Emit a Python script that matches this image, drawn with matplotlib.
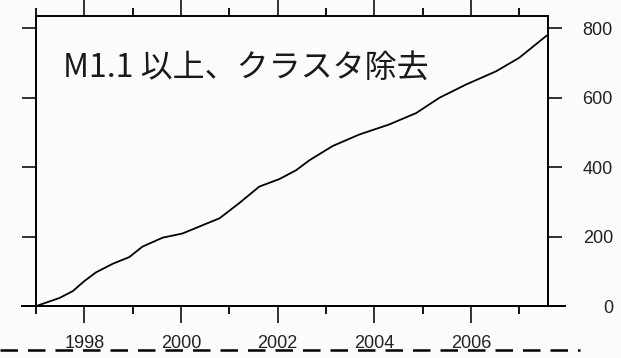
import matplotlib
matplotlib.use("Agg")
from matplotlib import pyplot as plt
from matplotlib.lines import Line2D
from matplotlib.ticker import FixedLocator

# cumulative event count (M1.1+, declustered)
years = [1997.0, 1997.48, 1997.76, 1998.0, 1998.24, 1998.59, 1998.93, 1999.2,
         1999.62, 2000.03, 2000.45, 2000.8, 2001.21, 2001.62, 2002.04, 2002.38,
         2002.66, 2003.14, 2003.69, 2004.31, 2004.87, 2005.35, 2005.9, 2006.52,
         2007.0, 2007.56]
counts = [0, 23, 43, 72, 97, 122, 141, 171, 197, 209, 233, 253, 297, 344, 366,
          391, 420, 461, 494, 523, 556, 600, 638, 676, 715, 778]

major_years = [1998, 2000, 2002, 2004, 2006]
minor_years = [1997, 1999, 2001, 2003, 2005, 2007]
y_ticks = [0, 200, 400, 600, 800]
title = "M1.1 以上、クラスタ除去"

plt.rcParams['font.family'] = ['Liberation Sans', 'DejaVu Sans']

fig = plt.figure(figsize=(6.21, 3.58), dpi=100, facecolor='#fbfcfb')
ax = fig.add_axes([0.058, 0.145, 0.824, 0.81], facecolor='#fbfcfb')

ax.plot(years, counts, color='black', linewidth=1.3)

ax.set_xlim(1997.0, 2007.59)
ax.set_ylim(0, 835)

for sp in ax.spines.values():
    sp.set_linewidth(1.4)

ax.xaxis.set_major_locator(FixedLocator(major_years))
ax.xaxis.set_minor_locator(FixedLocator(minor_years))
ax.set_xticklabels([str(y) for y in major_years])
ax.tick_params(axis='x', which='major', direction='out', length=12, width=1.3,
               top=True, bottom=True, labelsize=13, pad=9, colors='#222222')
ax.tick_params(axis='x', which='minor', direction='out', length=6, width=1.3,
               top=True, bottom=True)

ax.set_yticks(y_ticks)
ax.tick_params(axis='y', direction='out', length=10, width=1.3,
               left=True, right=True, labelleft=False, labelright=True,
               labelsize=13, pad=37, colors='#222222')
for lab in ax.get_yticklabels():
    lab.set_horizontalalignment('right')

ax.text(0.053, 0.82, title, transform=ax.transAxes, fontsize=23,
        family=['Noto Sans CJK JP', 'DejaVu Sans'], va='center', ha='left',
        color='#1a1a1a')

# baseline running past the frame, and dashed fold line at the bottom
fig.add_artist(Line2D([22 / 621, 565 / 621], [1 - 306 / 358, 1 - 306 / 358],
                      color='black', linewidth=1.4))
fig.add_artist(Line2D([0.0, 580 / 621], [1 - 350 / 358, 1 - 350 / 358],
                      color='black', linewidth=1.8, linestyle=(0, (7, 4)),
                      zorder=0))

fig.savefig('out.png', dpi=100, facecolor=fig.get_facecolor())
